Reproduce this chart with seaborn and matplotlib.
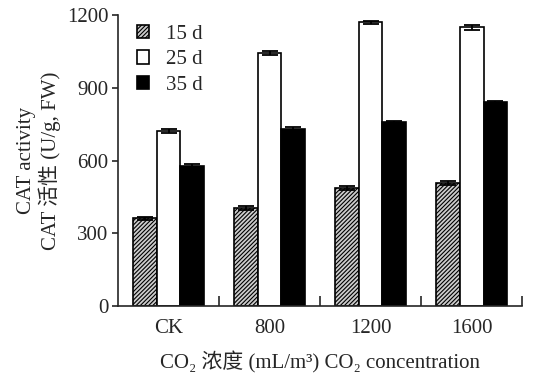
import numpy as np
import pandas as pd
import matplotlib
matplotlib.use('Agg')
import matplotlib.pyplot as plt
import seaborn as sns

# data
groups = ['CK', '800', '1200', '1600']
days = ['15 d', '25 d', '35 d']
cat_15 = [362, 404, 487, 508]
cat_25 = [722, 1045, 1170, 1150]
cat_35 = [578, 732, 758, 840]
err_15 = [6, 8, 7, 8]
err_25 = [10, 8, 7, 10]
err_35 = [7, 5, 7, 7]

sns.set_style('ticks')
plt.rcParams['font.family'] = ['Liberation Serif', 'Noto Sans CJK SC', 'DejaVu Serif']
plt.rcParams['hatch.linewidth'] = 0.8
fs = 15

df = pd.DataFrame({
    'group': groups * 3,
    'day': [days[0]] * 4 + [days[1]] * 4 + [days[2]] * 4,
    'value': cat_15 + cat_25 + cat_35,
})
errs = err_15 + err_25 + err_35

fig = plt.figure(figsize=(5.44, 3.76), dpi=100)
ax = fig.add_axes([0.217, 0.186, 0.743, 0.774])
sns.barplot(data=df, x='group', y='value', hue='day', order=groups, hue_order=days,
            palette=['white', 'white', 'black'], edgecolor='black', linewidth=1.2,
            width=0.7, errorbar=None, ax=ax)

# style bars and add error bars
bar_conts = list(ax.containers)
for i, cont in enumerate(bar_conts):
    for j, p in enumerate(cont.patches):
        if i == 0:
            p.set_hatch('////////')
            p.set_facecolor('#cccccc')
        x = p.get_x() + p.get_width() / 2
        ax.errorbar(x, p.get_height(), yerr=errs[i * 4 + j], color='black',
                    capsize=6, capthick=1.3, elinewidth=1.3, zorder=1)

# legend
handles, labels = ax.get_legend_handles_labels()
leg = ax.legend(handles[:3], labels[:3], loc='upper left', frameon=False, fontsize=fs,
                handlelength=0.6, handleheight=0.6, handletextpad=0.8,
                labelspacing=0.3, bbox_to_anchor=(0.0, 1.03))
leg.legend_handles[0].set_hatch('////////')
leg.legend_handles[0].set_facecolor('#cccccc')

ax.set_ylim(0, 1200)
ax.set_yticks([0, 300, 600, 900, 1200])
ax.set_xlim(-0.5, 3.5)
ax.set_xticks([0, 1, 2, 3])
ax.set_xticklabels(groups, fontsize=fs)
ax.tick_params(axis='x', length=0, pad=9)
ax.tick_params(axis='y', labelsize=fs, direction='out', length=4, width=1.2, pad=3)
ax.set_xticks([0.5, 1.5, 2.5, 3.5], minor=True)
ax.tick_params(axis='x', which='minor', direction='in', length=7, width=1.2)
for s in ['left', 'bottom']:
    ax.spines[s].set_linewidth(1.2)
sns.despine(ax=ax)

ax.set_xlabel('CO\u2082 浓度 (mL/m\u00b3) CO\u2082 concentration', fontsize=fs, labelpad=10)
ax.set_ylabel('CAT activity\nCAT 活性 (U/g, FW)', fontsize=fs, labelpad=4,
              linespacing=1.15)

fig.savefig('out.png', dpi=100)
